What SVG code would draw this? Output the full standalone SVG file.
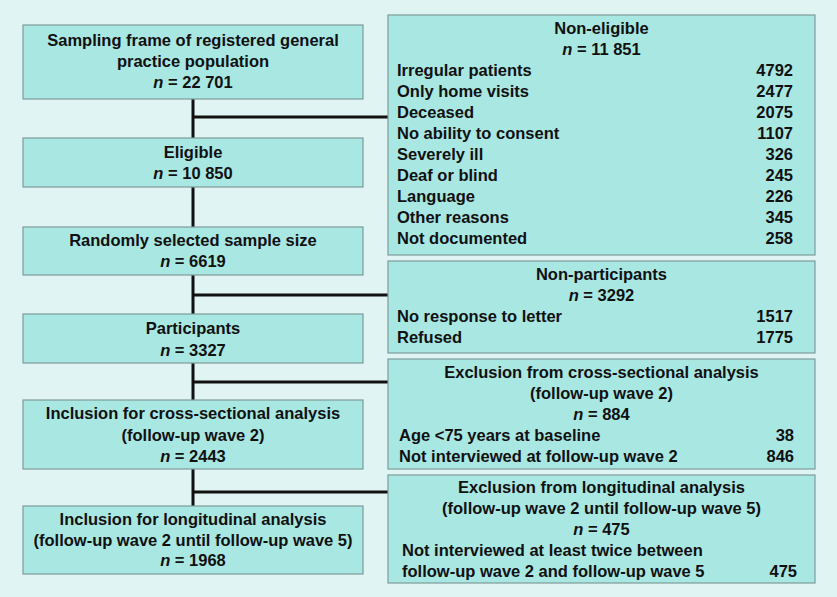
<svg xmlns="http://www.w3.org/2000/svg" width="837" height="597" viewBox="0 0 837 597">
<style>
.bg{fill:#e0f5f3}
.box{fill:#a9e7e2;stroke:#7d9c99;stroke-width:1.2}
text{font-family:"Liberation Sans",Arial,sans-serif;font-weight:bold;font-size:16.5px;fill:#111}
.c{text-anchor:middle}
.r{text-anchor:end}
.i{font-style:italic}
.conn{stroke:#111;stroke-width:3;fill:none}
</style>
<rect class="bg" x="0" y="0" width="837" height="597"/>
<g id="connectors">
<path class="conn" d="M193,99 V506"/>
<path class="conn" d="M193,117 H388"/>
<path class="conn" d="M193,295 H388"/>
<path class="conn" d="M193,382 H388"/>
<path class="conn" d="M193,492 H388"/>
</g>
<g id="sampling">
<rect class="box" x="23" y="25" width="340" height="74"/>
<text class="c" x="193" y="46">Sampling frame of registered general</text>
<text class="c" x="193" y="67">practice population</text>
<text class="c" x="193" y="88"><tspan class="i">n</tspan> = 22 701</text>
</g>
<g id="eligible">
<rect class="box" x="23" y="138" width="340" height="49"/>
<text class="c" x="193" y="158">Eligible</text>
<text class="c" x="193" y="179"><tspan class="i">n</tspan> = 10 850</text>
</g>
<g id="random">
<rect class="box" x="23" y="227" width="340" height="48"/>
<text class="c" x="193" y="246">Randomly selected sample size</text>
<text class="c" x="193" y="267"><tspan class="i">n</tspan> = 6619</text>
</g>
<g id="participants">
<rect class="box" x="23" y="314" width="340" height="49"/>
<text class="c" x="193" y="334">Participants</text>
<text class="c" x="193" y="356"><tspan class="i">n</tspan> = 3327</text>
</g>
<g id="crosssectional">
<rect class="box" x="23" y="400" width="340" height="69"/>
<text class="c" x="193" y="419">Inclusion for cross-sectional analysis</text>
<text class="c" x="193" y="441">(follow-up wave 2)</text>
<text class="c" x="193" y="462"><tspan class="i">n</tspan> = 2443</text>
</g>
<g id="longitudinal">
<rect class="box" x="23" y="506" width="340" height="68"/>
<text class="c" x="193" y="525">Inclusion for longitudinal analysis</text>
<text class="c" x="193" y="546">(follow-up wave 2 until follow-up wave 5)</text>
<text class="c" x="193" y="566"><tspan class="i">n</tspan> = 1968</text>
</g>
<g id="noneligible">
<rect class="box" x="388" y="15" width="427" height="240"/>
<text class="c" x="601.5" y="34">Non-eligible</text>
<text class="c" x="601.5" y="55"><tspan class="i">n</tspan> = 11 851</text>
<text x="397" y="76">Irregular patients</text><text class="r" x="793" y="76">4792</text>
<text x="397" y="97">Only home visits</text><text class="r" x="793" y="97">2477</text>
<text x="397" y="118">Deceased</text><text class="r" x="793" y="118">2075</text>
<text x="397" y="139">No ability to consent</text><text class="r" x="793" y="139">1107</text>
<text x="397" y="160">Severely ill</text><text class="r" x="793" y="160">326</text>
<text x="397" y="181">Deaf or blind</text><text class="r" x="793" y="181">245</text>
<text x="397" y="202">Language</text><text class="r" x="793" y="202">226</text>
<text x="397" y="223">Other reasons</text><text class="r" x="793" y="223">345</text>
<text x="397" y="244">Not documented</text><text class="r" x="793" y="244">258</text>
</g>
<g id="nonparticipants">
<rect class="box" x="388" y="261" width="427" height="92"/>
<text class="c" x="601.5" y="280">Non-participants</text>
<text class="c" x="601.5" y="301"><tspan class="i">n</tspan> = 3292</text>
<text x="397" y="322">No response to letter</text><text class="r" x="793" y="322">1517</text>
<text x="397" y="343">Refused</text><text class="r" x="793" y="343">1775</text>
</g>
<g id="exclcross">
<rect class="box" x="388" y="359" width="427" height="110"/>
<text class="c" x="601.5" y="378">Exclusion from cross-sectional analysis</text>
<text class="c" x="601.5" y="399">(follow-up wave 2)</text>
<text class="c" x="601.5" y="420"><tspan class="i">n</tspan> = 884</text>
<text x="399" y="441">Age &lt;75 years at baseline</text><text class="r" x="794" y="441">38</text>
<text x="399" y="462">Not interviewed at follow-up wave 2</text><text class="r" x="794" y="462">846</text>
</g>
<g id="excllong">
<rect class="box" x="388" y="475" width="427" height="108"/>
<text class="c" x="601.5" y="493">Exclusion from longitudinal analysis</text>
<text class="c" x="601.5" y="514">(follow-up wave 2 until follow-up wave 5)</text>
<text class="c" x="601.5" y="535"><tspan class="i">n</tspan> = 475</text>
<text x="402" y="556">Not interviewed at least twice between</text>
<text x="402" y="577">follow-up wave 2 and follow-up wave 5</text><text class="r" x="797" y="577">475</text>
</g>
</svg>
